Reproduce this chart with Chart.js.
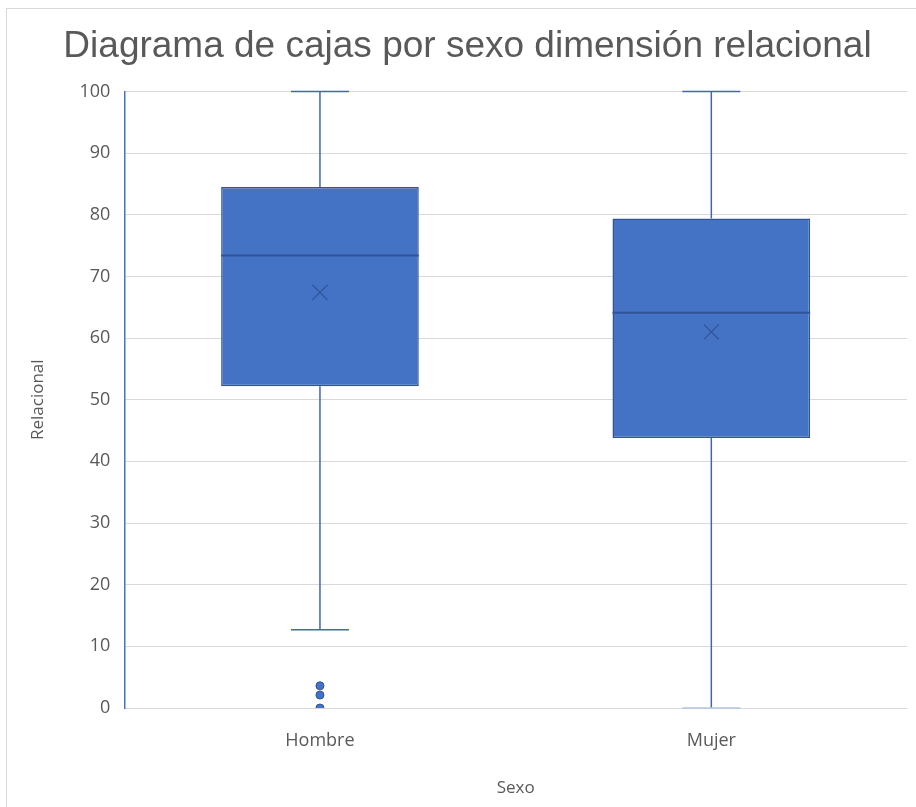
<!DOCTYPE html>
<html>
<head>
<meta charset="utf-8">
<script src="https://cdn.jsdelivr.net/npm/chart.js@4.4.0/dist/chart.umd.min.js"></script>
<style>
  body { margin: 0; background: #fff; }
  #wrap { position: absolute; left: 0; top: 0; width: 916px; height: 807px; }
</style>
</head>
<body>
<div id="wrap"><canvas id="chart" width="916" height="807"></canvas></div>
<script>
// ---- data ----
const categories = ['Hombre', 'Mujer'];
const minVals = [12.7, 0];
const q1Vals = [52.2, 43.8];
const medianVals = [73.4, 64.1];
const q3Vals = [84.5, 79.4];
const maxVals = [100, 100];
const meanVals = [67.4, 61.0];
const outlierCats = ['Hombre', 'Hombre', 'Hombre'];
const outlierVals = [3.6, 2.1, 0];
const yTicks = [0, 10, 20, 30, 40, 50, 60, 70, 80, 90, 100];

const boxFill = '#4472C4';
const boxLine = '#2F5597';
const whiskerColor = '#4267B2';
const textColor = '#595959';

// frame around the chart
const framePlugin = {
  id: 'frame',
  beforeDraw(chart) {
    const ctx = chart.ctx;
    ctx.save();
    ctx.fillStyle = '#fff';
    ctx.fillRect(0, 0, chart.width, chart.height);
    ctx.strokeStyle = '#d9d9d9';
    ctx.lineWidth = 1;
    ctx.strokeRect(6.5, 8.5, chart.width + 10, chart.height + 10);
    ctx.restore();
  }
};

// whiskers, median and mean marks drawn from the scales
const boxPlugin = {
  id: 'boxExtras',
  beforeDatasetsDraw(chart) {
    const ctx = chart.ctx;
    const x = chart.scales.x, y = chart.scales.y;
    ctx.save();
    ctx.strokeStyle = whiskerColor;
    ctx.lineWidth = 1.5;
    categories.forEach((c, i) => {
      const cx = x.getPixelForValue(i);
      const cap = 29;
      ctx.beginPath();
      ctx.moveTo(cx, y.getPixelForValue(q3Vals[i]));
      ctx.lineTo(cx, y.getPixelForValue(maxVals[i]));
      ctx.moveTo(cx - cap, y.getPixelForValue(maxVals[i]));
      ctx.lineTo(cx + cap, y.getPixelForValue(maxVals[i]));
      ctx.moveTo(cx, y.getPixelForValue(q1Vals[i]));
      ctx.lineTo(cx, y.getPixelForValue(minVals[i]));
      ctx.stroke();
      // lower cap (pale where it sits on the zero line)
      ctx.beginPath();
      ctx.strokeStyle = minVals[i] === 0 ? '#b4c4e2' : whiskerColor;
      ctx.moveTo(cx - cap, y.getPixelForValue(minVals[i]));
      ctx.lineTo(cx + cap, y.getPixelForValue(minVals[i]));
      ctx.stroke();
      ctx.strokeStyle = whiskerColor;
    });
    ctx.restore();
  },
  afterDatasetsDraw(chart) {
    const ctx = chart.ctx;
    const x = chart.scales.x, y = chart.scales.y;
    const meta = chart.getDatasetMeta(0);
    ctx.save();
    ctx.strokeStyle = boxLine;
    categories.forEach((c, i) => {
      const bar = meta.data[i];
      const half = bar.width / 2;
      const cx = x.getPixelForValue(i);
      const my = y.getPixelForValue(medianVals[i]);
      ctx.lineWidth = 2;
      ctx.beginPath();
      ctx.moveTo(cx - half, my);
      ctx.lineTo(cx + half, my);
      ctx.stroke();
      const ay = y.getPixelForValue(meanVals[i]);
      const s = 7.5;
      ctx.lineWidth = 1.3;
      ctx.beginPath();
      ctx.moveTo(cx - s, ay - s);
      ctx.lineTo(cx + s, ay + s);
      ctx.moveTo(cx + s, ay - s);
      ctx.lineTo(cx - s, ay + s);
      ctx.stroke();
    });
    ctx.restore();
  }
};

new Chart(document.getElementById('chart'), {
  type: 'bar',
  data: {
    labels: categories,
    datasets: [
      {
        type: 'bar',
        data: categories.map((c, i) => [q1Vals[i], q3Vals[i]]),
        backgroundColor: boxFill,
        borderColor: boxLine,
        borderWidth: 1.5,
        borderSkipped: false,
        categoryPercentage: 1,
        barPercentage: 0.505,
        order: 2
      },
      {
        type: 'line',
        data: outlierCats.map((c, i) => ({ x: c, y: outlierVals[i] })),
        showLine: false,
        pointRadius: 4,
        pointBackgroundColor: boxFill,
        pointBorderColor: boxLine,
        pointBorderWidth: 1,
        order: 1
      }
    ]
  },
  options: {
    responsive: false,
    animation: false,
    layout: { padding: { left: 28, right: 9, top: 0, bottom: 9 } },
    plugins: {
      legend: { display: false },
      tooltip: { enabled: false },
      title: {
        display: true,
        text: 'Diagrama de cajas por sexo dimensión relacional',
        color: textColor,
        font: { family: 'Liberation Sans', size: 37, weight: 'normal' },
        padding: { top: 25, bottom: 22 }
      }
    },
    scales: {
      x: {
        grid: { display: false },
        border: { display: false },
        ticks: { color: textColor, font: { family: 'Open Sans', size: 18 }, padding: 14 },
        title: { display: true, text: 'Sexo', color: textColor, font: { family: 'Open Sans', size: 17 }, padding: { top: 12, bottom: 0 } }
      },
      y: {
        min: 0,
        max: 100,
        afterBuildTicks(scale) { scale.ticks = yTicks.map(v => ({ value: v })); },
        grid: { color: '#d9d9d9', lineWidth: 1, drawTicks: false },
        border: { display: true, color: '#4472C4', width: 1.5 },
        ticks: { color: textColor, font: { family: 'Open Sans', size: 18 }, padding: 14 },
        title: { display: true, text: 'Relacional', color: textColor, font: { family: 'Open Sans', size: 17 }, padding: { top: 0, bottom: 17 } }
      }
    }
  },
  plugins: [framePlugin, boxPlugin]
});
</script>
</body>
</html>
